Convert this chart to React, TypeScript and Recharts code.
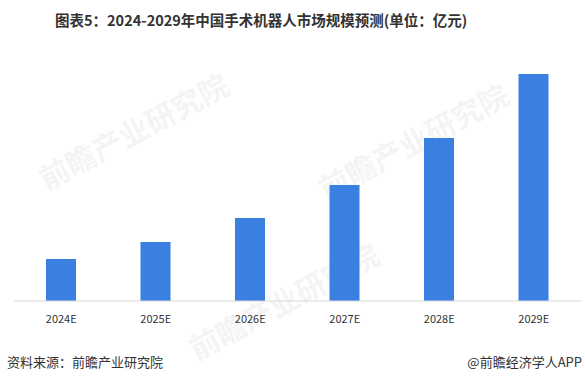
import { BarChart, Bar, XAxis, YAxis } from "recharts";

// 中国手术机器人市场规模预测 (亿元)
const years = ["2024E", "2025E", "2026E", "2027E", "2028E", "2029E"];
const marketSize = [42, 59, 83, 116, 163, 227];

const data = years.map((year, i) => ({ year, value: marketSize[i] }));

const FONT = '"Noto Sans CJK SC", "Microsoft YaHei", sans-serif';

function Watermark({ x, y }: { x: number; y: number }) {
  return (
    <div
      style={{
        position: "absolute",
        left: x,
        top: y,
        transform: "rotate(-28deg)",
        transformOrigin: "left top",
        color: "rgba(200,200,200,0.2)",
        fontSize: 30,
        fontWeight: 700,
        fontFamily: FONT,
        whiteSpace: "nowrap",
        pointerEvents: "none",
      }}
    >
      前瞻产业研究院
    </div>
  );
}

export default function App() {
  return (
    <div
      style={{
        position: "absolute",
        left: 0,
        top: 0,
        width: 585,
        height: 382,
        background: "#fff",
        fontFamily: FONT,
        overflow: "hidden",
      }}
    >
      <div
        style={{
          position: "absolute",
          left: 55,
          top: 10,
          fontSize: 14.5,
          fontWeight: 700,
          color: "#333",
          whiteSpace: "nowrap",
          lineHeight: "20px",
        }}
      >
        图表5：2024-2029年中国手术机器人市场规模预测(单位：亿元)
      </div>

      <Watermark x={30} y={160} />
      <Watermark x={310} y={170} />
      <Watermark x={180} y={330} />

      <BarChart
        width={585}
        height={382}
        data={data}
        margin={{ top: 51, right: 4, bottom: 0, left: 14 }}
        barCategoryGap="34%"
        style={{ position: "absolute", left: 0, top: 0 }}
      >
        <XAxis
          dataKey="year"
          axisLine={{ stroke: "#d9d9d9" }}
          tickLine={false}
          tick={{ fontSize: 11, fill: "#333", fontFamily: FONT }}
          tickMargin={8}
          height={81}
        />
        <YAxis hide domain={[0, 250]} />
        <Bar dataKey="value" fill="#3a80e1" barSize={30} isAnimationActive={false} />
      </BarChart>

      <div
        style={{
          position: "absolute",
          left: 7,
          top: 353,
          fontSize: 13,
          color: "#333",
          whiteSpace: "nowrap",
          lineHeight: "18px",
        }}
      >
        资料来源：前瞻产业研究院
      </div>
      <div
        style={{
          position: "absolute",
          right: 3,
          top: 353,
          fontSize: 13,
          color: "#333",
          whiteSpace: "nowrap",
          lineHeight: "18px",
        }}
      >
        @前瞻经济学人APP
      </div>
    </div>
  );
}
